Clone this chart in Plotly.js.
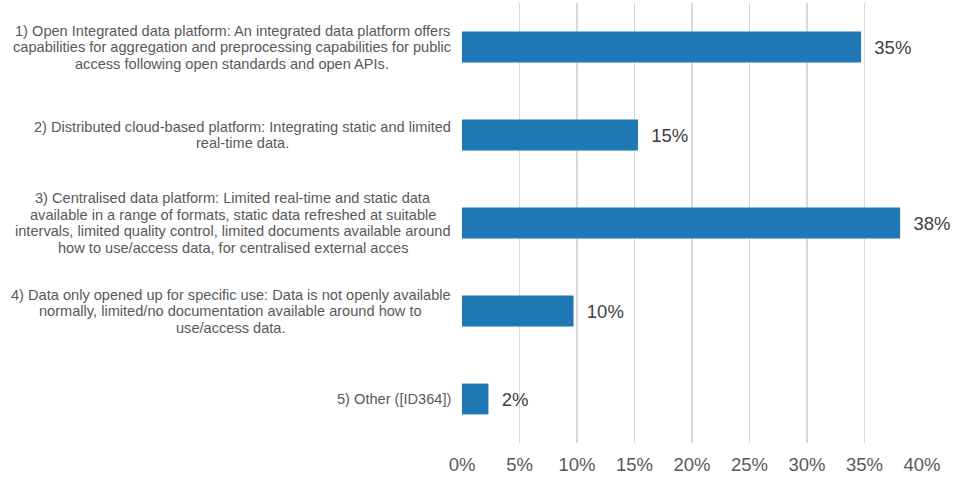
<!DOCTYPE html>
<html><head><meta charset="utf-8">
<script src="https://cdn.plot.ly/plotly-3.0.1.min.js"></script>
<style>html,body{margin:0;padding:0;background:#fff}#chart{width:954px;height:481px}</style>
</head><body><div id="chart"></div>
<script>
const categories = [
  "1) Open Integrated data platform: An integrated data platform offers<br>capabilities for aggregation and preprocessing capabilities for public<br>access following open standards and open APIs.",
  "2) Distributed cloud-based platform: Integrating static and limited<br>real-time data.",
  "3) Centralised data platform: Limited real-time and static data<br>available in a range of formats, static data refreshed at suitable<br>intervals, limited quality control, limited documents available around<br>how to use/access data, for centralised external acces",
  "4) Data only opened up for specific use: Data is not openly available<br>normally, limited/no documentation available around how to<br>use/access data.",
  "5) Other ([ID364])"
];
const values = [34.7, 15.3, 38.1, 9.7, 2.3];
const valueLabels = ["35%", "15%", "38%", "10%", "2%"];
const tickVals = [0, 5, 10, 15, 20, 25, 30, 35, 40];
const tickText = ["0%", "5%", "10%", "15%", "20%", "25%", "30%", "35%", "40%"];

const FONT = "Liberation Sans, Arial, sans-serif";
const ids = categories.map((c, i) => "c" + i);

const trace = {
  type: "bar",
  orientation: "h",
  x: values,
  y: ids,
  width: 0.35,
  marker: {color: "#1f77b4"},
  text: valueLabels.map(t => "  " + t),
  textposition: "outside",
  cliponaxis: false,
  textfont: {family: FONT, size: 18.5, color: "#404040"},
  hoverinfo: "none"
};

const LINE_GAP = 16.5;
const annotations = [];
categories.forEach((c, i) => {
  const lines = c.split("<br>");
  const n = lines.length;
  lines.forEach((ln, j) => {
    annotations.push({
      xref: "paper", yref: "y",
      x: -0.02, y: ids[i],
      xanchor: "right", yanchor: "middle",
      align: "center",
      showarrow: false,
      yshift: ((n - 1) / 2 - j) * LINE_GAP,
      text: ln,
      font: {family: FONT, size: 14.6, color: "#595959"}
    });
  });
});

// center each line within its block: compute after render using widths
const layout = {
  width: 954, height: 481,
  margin: {l: 462, r: 32, t: 3, b: 38},
  paper_bgcolor: "#ffffff",
  plot_bgcolor: "#ffffff",
  showlegend: false,
  xaxis: {
    range: [0, 40],
    tickvals: tickVals,
    ticktext: tickText,
    showgrid: true,
    gridcolor: "#d9d9d9",
    gridwidth: 1.5,
    zeroline: false,
    showline: false,
    ticks: "",
    ticklabelstandoff: 8,
    tickfont: {family: FONT, size: 18.5, color: "#595959"},
    fixedrange: true
  },
  yaxis: {
    type: "category",
    autorange: "reversed",
    showticklabels: false,
    showgrid: false,
    zeroline: false,
    showline: false,
    ticks: "",
    fixedrange: true
  },
  annotations: annotations
};

Plotly.newPlot("chart", [trace], layout, {displayModeBar: false, staticPlot: true}).then(gd => {
  // measure line widths so each block's lines are centred on the widest line
  const ctx = document.createElement("canvas").getContext("2d");
  ctx.font = "14.6px " + FONT;
  const ann = gd.layout.annotations.map(a => Object.assign({}, a));
  let k = 0;
  const plotW = gd._fullLayout._size.w;
  categories.forEach((c) => {
    const lines = c.split("<br>");
    const widths = lines.map(l => ctx.measureText(l).width);
    const maxW = Math.max(...widths);
    lines.forEach((ln, j) => {
      ann[k].xshift = -(maxW - widths[j]) / 2;
      k++;
    });
  });
  Plotly.relayout(gd, {annotations: ann});
});
</script>
</body></html>
